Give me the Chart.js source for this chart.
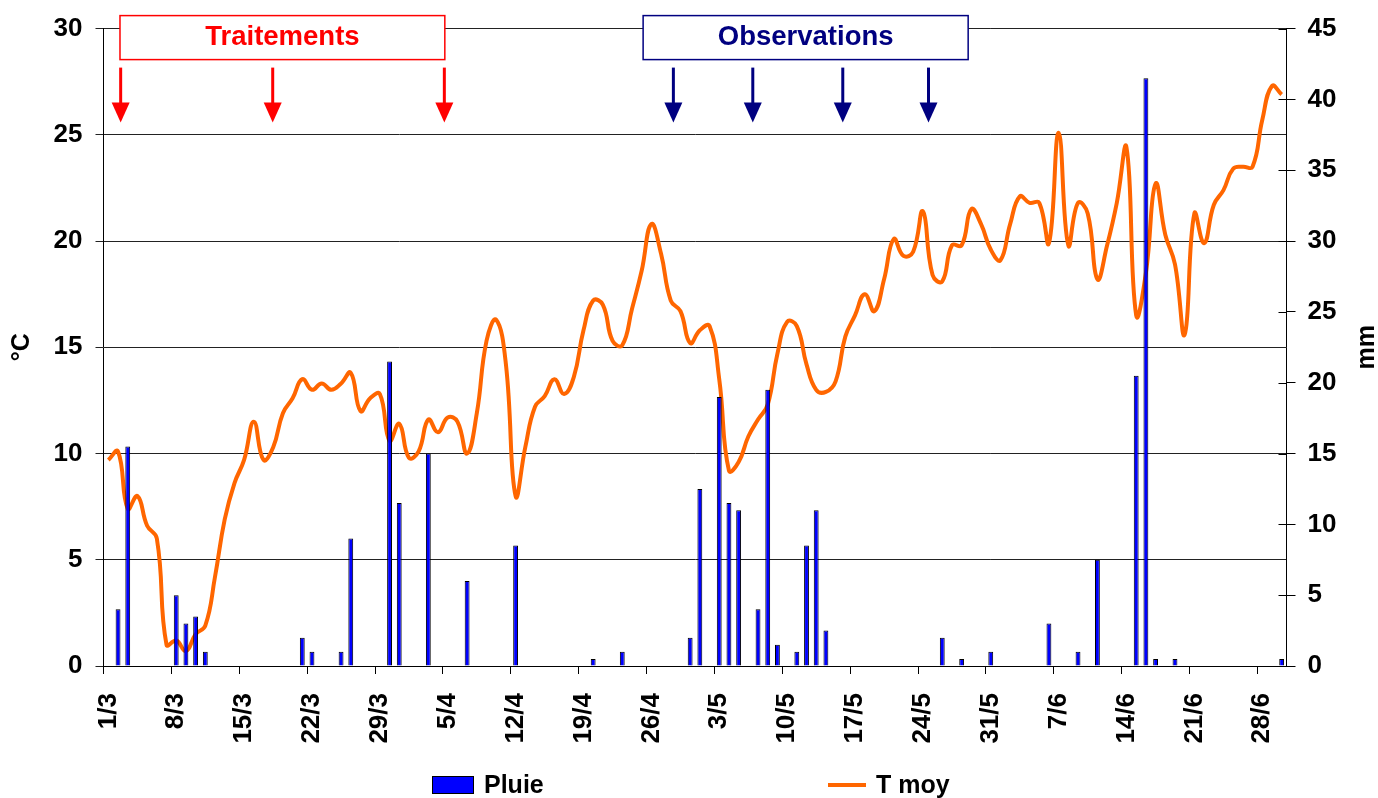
<!DOCTYPE html>
<html>
<head>
<meta charset="utf-8">
<script src="https://cdn.jsdelivr.net/npm/chart.js@4.4.0/dist/chart.umd.min.js"></script>
<style>
html,body{margin:0;padding:0;background:#fff;overflow:hidden}
#wrap{position:relative;width:1378px;height:798px}
</style>
</head>
<body>
<div id="wrap"><canvas id="c" width="1378" height="798"></canvas></div>
<script>
// ---- Data ----
const categories = [
 '1/3','2/3','3/3','4/3','5/3','6/3','7/3','8/3','9/3','10/3','11/3','12/3','13/3','14/3','15/3','16/3',
 '17/3','18/3','19/3','20/3','21/3','22/3','23/3','24/3','25/3','26/3','27/3','28/3','29/3','30/3','31/3',
 '1/4','2/4','3/4','4/4','5/4','6/4','7/4','8/4','9/4','10/4','11/4','12/4','13/4','14/4','15/4','16/4',
 '17/4','18/4','19/4','20/4','21/4','22/4','23/4','24/4','25/4','26/4','27/4','28/4','29/4','30/4',
 '1/5','2/5','3/5','4/5','5/5','6/5','7/5','8/5','9/5','10/5','11/5','12/5','13/5','14/5','15/5','16/5',
 '17/5','18/5','19/5','20/5','21/5','22/5','23/5','24/5','25/5','26/5','27/5','28/5','29/5','30/5','31/5',
 '1/6','2/6','3/6','4/6','5/6','6/6','7/6','8/6','9/6','10/6','11/6','12/6','13/6','14/6','15/6','16/6',
 '17/6','18/6','19/6','20/6','21/6','22/6','23/6','24/6','25/6','26/6','27/6','28/6','29/6','30/6'
];

// Pluie (mm, right axis), one value per day, month by month
const rainMarch = [0,4.0,15.5,0,0,0,0,5.0,3.0,3.5,1.0,0,0,0,0,0,0,0,0,0,2.0,1.0,0,0,1.0,9.0,0,0,0,21.5,11.5];
const rainApril = [0,0,15.0,0,0,0,6.0,0,0,0,0,8.5,0,0,0,0,0,0,0,0.5,0,0,1.0,0,0,0,0,0,0,2.0];
const rainMay   = [12.5,0,19.0,11.5,11.0,0,4.0,19.5,1.5,0,1.0,8.5,11.0,2.5,0,0,0,0,0,0,0,0,0,0,0,2.0,0,0.5,0,0,1.0];
const rainJune  = [0,0,0,0,0,3.0,0,0,1.0,0,7.5,0,0,0,20.5,41.5,0.5,0,0.5,0,0,0,0,0,0,0,0,0,0,0.5];
const rainMm = [].concat(rainMarch, rainApril, rainMay, rainJune);

// T moy (°C, left axis)
const tMoy = [
 9.7,10.1,7.4,8.0,6.6,6.0,1.0,1.2,0.7,1.5,1.9,4.2,6.9,8.6,9.7,11.5,
 9.7,10.3,11.9,12.6,13.5,13.0,13.3,13.0,13.3,13.8,12.0,12.6,12.8,10.6,11.4,
 9.8,10.1,11.6,11.0,11.7,11.5,10.0,11.9,15.3,16.3,14.2,8.0,10.3,12.2,12.7,13.5,
 12.8,13.6,15.8,17.2,17.0,15.3,15.1,16.8,18.6,20.8,19.4,17.2,16.7,15.2,
 15.8,16.0,13.5,9.2,9.6,10.8,11.6,12.3,14.7,16.2,16.0,14.2,13.0,12.9,13.4,15.5,
 16.5,17.5,16.7,18.2,20.1,19.3,19.5,21.4,18.4,18.1,19.8,19.8,21.5,20.8,19.6,19.1,
 20.8,22.1,21.8,21.8,19.9,25.1,19.8,21.8,21.3,18.2,19.8,21.8,24.4,16.5,18.5,22.7,
 20.3,18.9,15.6,21.3,19.9,21.7,22.4,23.4,23.5,23.5,25.7,27.3,26.9
];

const labelEvery = 7;
const treatmentArrows = [1.27, 16.95, 34.65];          // category positions
const observationArrows = [58.27, 66.46, 75.74, 84.58];
const treatmentSpan = [1.2, 34.7];
const observationSpan = [55.15, 88.67];

// ---- Styles ----
const FONT = "'Liberation Sans', Arial, Helvetica, sans-serif";
const RED = '#FF0000';
const NAVY = '#000080';
const ORANGE = '#FF6600';
const BLUE = '#0000FF';

const overlayPlugin = {
  id: 'overlay',
  afterDraw(chart) {
    const ctx = chart.ctx;
    const xs = chart.scales.x;
    const ca = chart.chartArea;
    const x0 = xs.getPixelForValue(0);
    const step = xs.getPixelForValue(1) - x0;
    const px = v => x0 + v * step;
    ctx.save();

    // inner half of right-axis tick marks
    const r = chart.scales.y1;
    ctx.strokeStyle = '#000';
    ctx.lineWidth = 1;
    r.ticks.forEach(t => {
      const y = Math.round(r.getPixelForValue(t.value)) + 0.5;
      ctx.beginPath(); ctx.moveTo(ca.right - 8, y); ctx.lineTo(ca.right, y); ctx.stroke();
    });

    function box(span, text, color) {
      const l = px(span[0]), rr = px(span[1]);
      const t = ca.top - 13, h = 44;
      ctx.fillStyle = '#fff';
      ctx.fillRect(l, t, rr - l, h);
      ctx.strokeStyle = color;
      ctx.lineWidth = 1.5;
      ctx.strokeRect(l, t, rr - l, h);
      ctx.fillStyle = color;
      ctx.font = 'bold 27.5px ' + FONT;
      ctx.textAlign = 'center';
      ctx.textBaseline = 'middle';
      ctx.fillText(text, (l + rr) / 2, t + h / 2);
    }
    function arrow(v, color) {
      const x = px(v);
      ctx.strokeStyle = color;
      ctx.fillStyle = color;
      ctx.lineWidth = 3;
      ctx.beginPath();
      ctx.moveTo(x, ca.top + 39);
      ctx.lineTo(x, ca.top + 76);
      ctx.stroke();
      ctx.beginPath();
      ctx.moveTo(x - 9, ca.top + 74);
      ctx.lineTo(x + 9, ca.top + 74);
      ctx.lineTo(x, ca.top + 94);
      ctx.closePath();
      ctx.fill();
    }
    box(treatmentSpan, 'Traitements', RED);
    box(observationSpan, 'Observations', NAVY);
    treatmentArrows.forEach(v => arrow(v, RED));
    observationArrows.forEach(v => arrow(v, NAVY));

    // axis titles
    ctx.fillStyle = '#000';
    ctx.font = 'bold 25px ' + FONT;
    ctx.textAlign = 'center';
    ctx.textBaseline = 'middle';
    const midY = (ca.top + ca.bottom) / 2;
    ctx.save(); ctx.translate(22, midY); ctx.rotate(-Math.PI / 2); ctx.fillText('°C', 0, 0); ctx.restore();
    ctx.save(); ctx.translate(1367, midY); ctx.rotate(-Math.PI / 2); ctx.fillText('mm', 0, 0); ctx.restore();

    // legend
    const ly = 785;
    ctx.fillStyle = BLUE;
    ctx.fillRect(432, ly - 9, 42, 18);
    ctx.strokeStyle = '#000';
    ctx.lineWidth = 1;
    ctx.strokeRect(432.5, ly - 8.5, 41, 17);
    ctx.fillStyle = '#000';
    ctx.textAlign = 'left';
    ctx.fillText(chart.data.datasets[0].label, 484, ly + 1);
    ctx.strokeStyle = ORANGE;
    ctx.lineWidth = 4;
    ctx.beginPath(); ctx.moveTo(828, ly); ctx.lineTo(866, ly); ctx.stroke();
    ctx.fillText(chart.data.datasets[1].label, 876, ly + 1);
    ctx.restore();
  }
};

const tickFont = { family: FONT, size: 26, weight: 'bold' };

new Chart(document.getElementById('c'), {
  data: {
    labels: categories,
    datasets: [
      { type: 'bar', label: 'Pluie', data: rainMm, yAxisID: 'y1',
        backgroundColor: BLUE, borderColor: '#000', borderWidth: 1,
        barPercentage: 0.5, categoryPercentage: 1, order: 0 },
      { type: 'line', label: 'T moy', data: tMoy, yAxisID: 'y',
        borderColor: ORANGE, borderWidth: 4, pointRadius: 0, tension: 0.45,
        fill: false, order: 1 }
    ]
  },
  options: {
    responsive: false,
    animation: false,
    devicePixelRatio: 1,
    layout: { padding: { top: 28, left: 0, right: 0, bottom: 0 } },
    plugins: { legend: { display: false }, tooltip: { enabled: false } },
    scales: {
      x: {
        type: 'category',
        offset: true,
        grid: {
          offset: true, drawOnChartArea: false, tickLength: 8, lineWidth: 1,
          color: c => (c.index % labelEvery === 0 ? '#000' : 'rgba(0,0,0,0)')
        },
        border: { color: '#000', width: 1 },
        ticks: {
          autoSkip: false, maxRotation: 90, minRotation: 90, padding: 19,
          color: '#000', font: tickFont,
          callback: (v, i) => (i % labelEvery === 0 ? categories[i] : '')
        },
        afterFit: s => { s.height = 132; }
      },
      y: {
        position: 'left', min: 0, max: 30,
        ticks: { stepSize: 5, padding: 13, color: '#000', font: tickFont },
        grid: { color: '#222', lineWidth: 1, tickLength: 8 },
        border: { color: '#000', width: 1 },
        afterFit: s => { s.width = 103.5; }
      },
      y1: {
        position: 'right', min: 0, max: 45,
        ticks: { stepSize: 5, padding: 12, color: '#000', font: tickFont },
        grid: { drawOnChartArea: false, color: '#000', lineWidth: 1, tickLength: 9 },
        border: { color: '#000', width: 1 },
        afterFit: s => { s.width = 91.5; }
      }
    }
  },
  plugins: [overlayPlugin]
});
</script>
</body>
</html>
